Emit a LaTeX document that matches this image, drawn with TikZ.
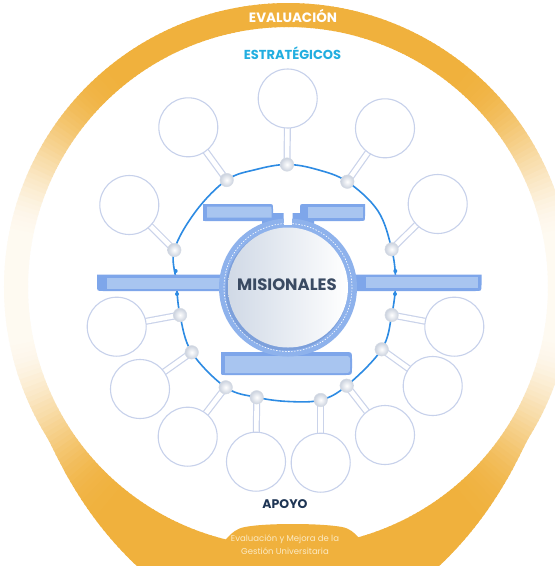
\documentclass[tikz,border=0pt]{standalone}
\usepackage{fontspec}
\setmainfont{Poppins}
\definecolor{ringor}{HTML}{F0B13D}
\definecolor{circline}{HTML}{C7D1EB}
\definecolor{dotgray}{HTML}{CBD2DE}
\definecolor{dotedge}{HTML}{D5DBE5}
\definecolor{stemline}{HTML}{CAD3EA}
\definecolor{lineblue}{HTML}{2D8BE3}
\definecolor{bardark}{HTML}{7EA6EA}
\definecolor{barlight}{HTML}{A8C5F0}
\definecolor{ringblue}{HTML}{8EB2EC}
\definecolor{misc}{HTML}{3A4A62}
\definecolor{apoyoc}{HTML}{1E3554}
\definecolor{estr}{HTML}{22AEE0}
\definecolor{cream}{HTML}{FBEAC4}
\definecolor{cgray}{HTML}{D0D9E6}
\definecolor{shadowc}{HTML}{6A8CC8}
\tikzset{
  smallc/.style={circle, draw=circline, line width=1.1pt, fill=white, minimum size=59pt, inner sep=0pt},
  dotn/.style={circle, minimum size=13.5pt, inner sep=0pt, inner color=white, outer color=dotgray, draw=dotedge, line width=.5pt},
  stemout/.style={line width=7pt, draw=stemline},
  stemin/.style={line width=4.6pt, draw=white},
  bluel/.style={draw=lineblue, line width=1.6pt},
  lbl/.style={inner sep=0pt, font=\bfseries}
}
\begin{document}
\begin{tikzpicture}[x=1pt, y=-1pt]
\useasboundingbox (0,0) rectangle (555,566);
\fill[white] (0,0) rectangle (555,566);
% orange ring: faded at the sides, widening towards the bottom
\foreach \a in {0,1,...,359}{
  \pgfmathsetmacro\b{\a+1.3}
  \pgfmathsetmacro\s{abs(sin(\a+0.5))}
  \pgfmathsetmacro\t{asin(\s)}
  \pgfmathsetmacro\u{max(0,min(1,(\t-10)/40))}
  \pgfmathtruncatemacro\p{7+93*\u*\u*(3-2*\u)}
  \pgfmathsetmacro\da{max(0.001,1-abs(\a-90)/58)}
  \pgfmathsetmacro\db{max(0.001,1-abs(\b-90)/58)}
  \pgfmathsetmacro\Ra{(\a<=185) ? 284+80*(\da)^1.3 : 284}
  \pgfmathsetmacro\Rb{(\a<=185) ? 284+80*(\db)^1.3 : 284}
  \fill[color=ringor!\p!white, shift={(288,287)}] (\a:260) -- (\a:\Ra) -- (\b:\Rb) -- (\b:260) -- cycle;
}
% bottom bump
\fill[ringor] (214,548) .. controls (226,545) and (228,530) .. (245,527)
  .. controls (265,523) and (320,523) .. (342,527)
  .. controls (358,530) and (360,545) .. (372,548) -- (372,566) -- (214,566) -- cycle;
\node[lbl, text=white, font=\bfseries\fontsize{13.5}{14}\selectfont] (evaltop) at (293,16) {EVALUACIÓN};
\node[inner sep=0pt, text=cream, font=\fontsize{8.5}{9}\selectfont] (ev1) at (285,539) {Evaluación y Mejora de la};
\node[inner sep=0pt, text=cream, font=\fontsize{8.5}{9}\selectfont] (ev2) at (285,551) {Gestión Universitaria};
% blue orbit
\draw[bluel] plot[smooth cycle, tension=0.6] coordinates {
 (287,164.5) (317,169.5) (347.3,181.7) (378,211) (391.7,249.3) (395.5,282)
 (391.7,315) (381.7,349.3) (346.7,385.7) (320.7,400) (288.7,401.5) (256.7,397.3)
 (225.7,387.3) (191.7,352.3) (180,315) (176.3,282) (174.3,250) (196,211)
 (226.7,180) (256,169.5)};
% circle and dot positions
\foreach \i/\cx/\cy/\dx/\dy in {
1/287.7/98.5/287/164.5,
2/188.3/127.3/226.7/180,
3/385/128.3/347.3/181.7,
4/129.3/205/174.3/250,
5/437.7/204/391.7/249.3,
6/116.7/326.7/180/315,
7/454.3/326.7/391.7/315,
8/140/389/191.7/352.3,
9/432.7/386/381.7/349.3,
10/187.7/436.7/225.7/387.3,
11/385/435/346.7/385.7,
12/256/461.7/256.7/397.3,
13/320.7/462.7/320.7/400}{
  \coordinate (c\i) at (\cx,\cy);
  \coordinate (d\i) at (\dx,\dy);
}
\foreach \i in {1,...,13}{ \draw[stemout] (d\i) -- (c\i); }
\foreach \i in {1,...,13}{ \draw[stemin] (d\i) -- (c\i); }
\foreach \i in {1,...,13}{ \node[smallc] (n\i) at (c\i) {}; }
\foreach \i in {1,...,13}{ \node[dotn] (p\i) at (d\i) {}; }
% bars
\fill[bardark] (224,274.5) -- (97,274.5) -- (97,285) .. controls (97,291) .. (103,291) -- (224,291) -- cycle;
\fill[barlight] (107,278) rectangle (222,288.5);
\fill[bardark] (352,274.5) -- (481.5,274.5) -- (481.5,285) .. controls (481.5,291) .. (475.5,291) -- (352,291) -- cycle;
\fill[barlight] (366,277) rectangle (478,288);
\fill[bardark] (203,204) -- (268,204) .. controls (273,204) .. (273,209) -- (273,213) -- (283.5,213) -- (283.5,226) -- (262,226) -- (262,221) -- (205,221) .. controls (203,221) .. (203,219) -- cycle;
\fill[barlight] (207,206.5) -- (269,206.5) .. controls (271.5,206.5) .. (271.5,209) -- (271.5,217.5) -- (207,217.5) -- cycle;
\fill[bardark] (292.5,226) -- (292.5,213) -- (300,213) -- (300,209) .. controls (300,204) .. (305,204) -- (365,204) -- (365,216) .. controls (365,221) .. (360,221) -- (314,221) -- (314,226) -- cycle;
\fill[barlight] (308,206.5) -- (363,206.5) -- (363,217.5) -- (308,217.5) -- cycle;
\fill[bardark] (221,352) -- (345,352) .. controls (352,352) .. (352,359) -- (352,368) .. controls (352,375) .. (345,375) -- (225,375) .. controls (221,375) .. (221,371) -- cycle;
\fill[barlight] (225,356) -- (344,356) .. controls (350,356) .. (350,362) -- (350,367) .. controls (350,373) .. (344,373) -- (225,373) -- cycle;
% small blue dots where orbit meets side bars
\fill[lineblue] (175.7,271) circle[radius=2];
\fill[lineblue] (177,294) circle[radius=2];
\fill[lineblue] (395.3,271) circle[radius=2];
\fill[lineblue] (395,294) circle[radius=2];
% central ring
\fill[ringblue] (288,287.5) circle[radius=69];
\draw[white, line width=.6pt, dash pattern=on 1.5pt off 1.5pt] (288,287.5) circle[radius=64];
\fill[white] (284,200) rectangle (292,225);
\fill[shadowc, opacity=.45] (286.5,289.5) circle[radius=61];
\shade[left color=cgray, right color=white] (288,287.5) circle[radius=60];
\node[lbl, text=misc, font=\bfseries\fontsize{16.5}{17}\selectfont] (mis) at (287,285) {MISIONALES};
\node[lbl, text=estr, font=\bfseries\fontsize{13}{14}\selectfont] (estrat) at (292.5,53) {ESTRATÉGICOS};
\node[lbl, text=apoyoc, font=\bfseries\fontsize{12.5}{13}\selectfont] (apoyo) at (285,504) {APOYO};
\end{tikzpicture}
\end{document}
